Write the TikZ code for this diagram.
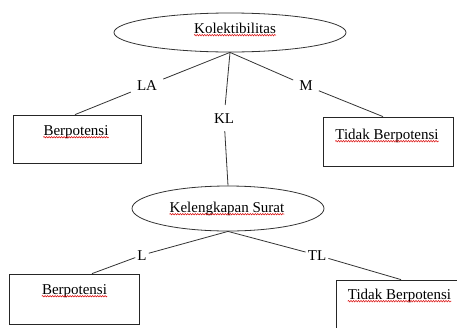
\documentclass[tikz,border=0pt]{standalone}
\usepackage{fontspec}
\setmainfont{Liberation Serif}
\usetikzlibrary{shapes.geometric,decorations.pathmorphing,calc}
\begin{document}
\begin{tikzpicture}[x=1pt,y=-1pt,
  conn/.style={draw=black!80,line width=0.8pt},
  oval/.style={ellipse,draw=black!80,line width=0.8pt,inner sep=0pt},
  boxnode/.style={rectangle,draw=black!85,line width=0.8pt,inner sep=0pt},
  txt/.style={font=\fontsize{15}{18}\selectfont,inner sep=0pt,anchor=base},
  lbl/.style={font=\fontsize{15}{18}\selectfont,anchor=base,inner sep=6pt},
  lbls/.style={font=\fontsize{15}{18}\selectfont,anchor=base,inner sep=2pt},
  spell/.style={draw=red!85!black,line width=0.5pt,decorate,decoration={snake,amplitude=0.7pt,segment length=2.5pt}}]
\useasboundingbox (0,0) rectangle (457,327);
\clip (0,0) rectangle (457,327);

% ovals
\node[oval,minimum width=232pt,minimum height=39pt] (e1) at (230,32.5) {};
\node[txt] (t1) at (235,33) {Kolektibilitas};
\node[oval,minimum width=192pt,minimum height=45pt] (e2) at (228,208.5) {};
\node[txt] (t2) at (227,212) {Kelengkapan Surat};

% boxes
\node[boxnode,minimum width=128pt,minimum height=48pt] (b1) at (77,139) {};
\node[txt] (t3) at (76,135) {Berpotensi};
\node[boxnode,minimum width=130pt,minimum height=49pt] (b2) at (388,141.5) {};
\node[txt] (t4) at (387,139) {Tidak Berpotensi};
\node[boxnode,minimum width=130pt,minimum height=50pt] (b3) at (74,299) {};
\node[txt] (t5) at (74.5,294) {Berpotensi};
\node[boxnode,minimum width=130pt,minimum height=50pt] (b4) at (401,305) {};
\node[txt] (t6) at (399.5,299) {Tidak Berpotensi};

% labels
\node[lbl] (LA) at (147,90.5) {LA};
\node[lbl] (M) at (306,90.5) {M};
\node[lbl,inner ysep=8pt,inner xsep=4pt] (KL) at (224,123) {KL};
\node[lbls] (L) at (142,260) {L};
\node[lbls] (TL) at (317,260) {TL};

% connectors
\draw[conn] (e1.south) -- (LA) -- ($(b1.north)+(-2,0)$);
\draw[conn] (e1.south) -- (M) -- ($(b2.north)+(-5,0)$);
\draw[conn] (e1.south) -- (KL) -- (e2.north);
\draw[conn] (e2.south) -- (L) -- ($(b3.north)+(18,0)$);
\draw[conn] (e2.south) -- (TL) -- (b4.north);

% spell-check underlines
\foreach \t in {t1,t2,t3,t4,t5,t6}{
  \draw[spell] ([yshift=-2.2pt]\t.base west) -- ([yshift=-2.2pt]\t.base east);
}
\end{tikzpicture}
\end{document}
